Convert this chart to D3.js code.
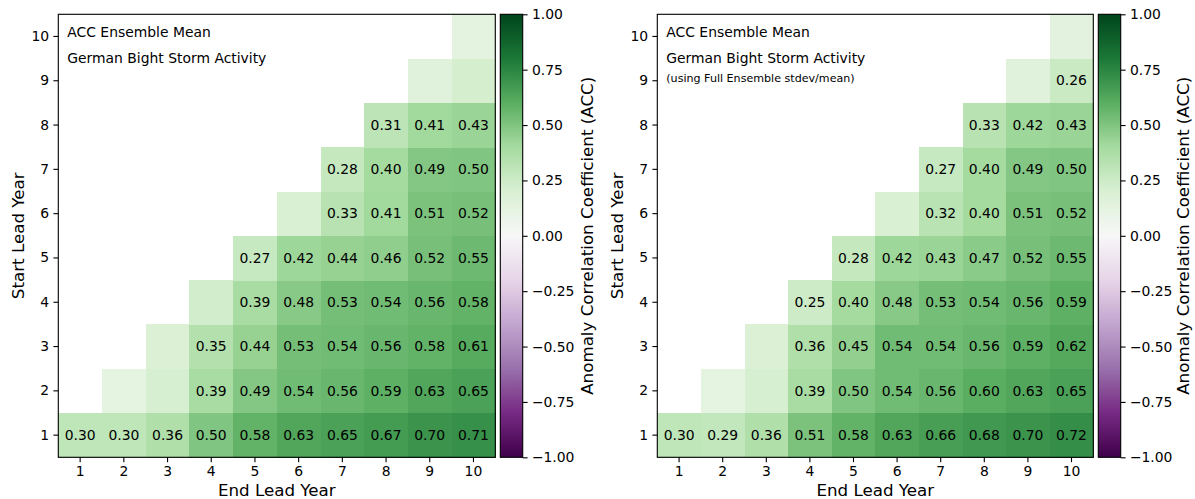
<!DOCTYPE html>
<html><head><meta charset="utf-8">
<script src="https://cdn.jsdelivr.net/npm/d3@7"></script>
<style>
body{margin:0;background:#fff}
svg{display:block}
text{font-family:"DejaVu Sans",sans-serif;fill:#000}
</style>
</head><body>
<svg id="chart" width="1195" height="499"></svg>
<script>
// ---------------- data ----------------
const endYears = [1, 2, 3, 4, 5, 6, 7, 8, 9, 10];
const startYears = [1, 2, 3, 4, 5, 6, 7, 8, 9, 10];
// rows = start lead year 1..10, columns = end lead year 1..10 (null = not defined)
const accLeft = [
  [0.30, 0.30, 0.36, 0.50, 0.58, 0.63, 0.65, 0.67, 0.70, 0.71],
  [null, 0.12, 0.21, 0.39, 0.49, 0.54, 0.56, 0.59, 0.63, 0.65],
  [null, null, 0.19, 0.35, 0.44, 0.53, 0.54, 0.56, 0.58, 0.61],
  [null, null, null, 0.23, 0.39, 0.48, 0.53, 0.54, 0.56, 0.58],
  [null, null, null, null, 0.27, 0.42, 0.44, 0.46, 0.52, 0.55],
  [null, null, null, null, null, 0.20, 0.33, 0.41, 0.51, 0.52],
  [null, null, null, null, null, null, 0.28, 0.40, 0.49, 0.50],
  [null, null, null, null, null, null, null, 0.31, 0.41, 0.43],
  [null, null, null, null, null, null, null, null, 0.15, 0.22],
  [null, null, null, null, null, null, null, null, null, 0.13]
];
const accRight = [
  [0.30, 0.29, 0.36, 0.51, 0.58, 0.63, 0.66, 0.68, 0.70, 0.72],
  [null, 0.12, 0.21, 0.39, 0.50, 0.54, 0.56, 0.60, 0.63, 0.65],
  [null, null, 0.19, 0.36, 0.45, 0.54, 0.54, 0.56, 0.59, 0.62],
  [null, null, null, 0.25, 0.40, 0.48, 0.53, 0.54, 0.56, 0.59],
  [null, null, null, null, 0.28, 0.42, 0.43, 0.47, 0.52, 0.55],
  [null, null, null, null, null, 0.20, 0.32, 0.40, 0.51, 0.52],
  [null, null, null, null, null, null, 0.27, 0.40, 0.49, 0.50],
  [null, null, null, null, null, null, null, 0.33, 0.42, 0.43],
  [null, null, null, null, null, null, null, null, 0.15, 0.26],
  [null, null, null, null, null, null, null, null, null, 0.14]
];
const leftTexts = ["ACC Ensemble Mean", "German Bight Storm Activity"];
const rightTexts = ["ACC Ensemble Mean", "German Bight Storm Activity", "(using Full Ensemble stdev/mean)"];
const cbTicks = [-1.00, -0.75, -0.50, -0.25, 0.00, 0.25, 0.50, 0.75, 1.00];
const labelThreshold = 0.25;
const xLabel = "End Lead Year";
const yLabel = "Start Lead Year";
const cbLabel = "Anomaly Correlation Coefficient (ACC)";
// matplotlib PRGn anchor colours
const prgnColors = ["#40004b","#762a83","#9970ab","#c2a5cf","#e7d4e8","#f7f7f7","#d9f0d3","#a6dba0","#5aae61","#1b7837","#00441b"];

// ---------------- drawing ----------------
const svg = d3.select("#chart");
const color = d3.scaleLinear()
  .domain(d3.range(prgnColors.length).map(i => -1 + 2 * i / (prgnColors.length - 1)))
  .range(prgnColors)
  .interpolate(d3.interpolateRgb)
  .clamp(true);

const defs = svg.append("defs");
const grad = defs.append("linearGradient").attr("id", "prgn")
  .attr("x1", 0).attr("y1", 1).attr("x2", 0).attr("y2", 0);
d3.range(0, 1.0001, 0.02).forEach(t => {
  grad.append("stop").attr("offset", t).attr("stop-color", color(-1 + 2 * t));
});

const FS = 13.9, FSL = 16.7, LW = 1.1, TICK = 4.9;

function panel(o) {
  const g = svg.append("g");
  const x = d3.scaleBand().domain(endYears).range([o.x0, o.x1]).padding(0);
  const y = d3.scaleBand().domain(startYears).range([o.y1, o.y0]).padding(0);

  const cells = [];
  o.values.forEach((row, i) => row.forEach((v, j) => {
    if (v !== null) cells.push({s: startYears[i], e: endYears[j], v});
  }));

  g.selectAll("rect.cell").data(cells).join("rect")
    .attr("x", d => x(d.e)).attr("y", d => y(d.s))
    .attr("width", x.bandwidth() + 0.4).attr("height", y.bandwidth() + 0.4)
    .attr("fill", d => color(d.v)).attr("shape-rendering", "crispEdges");

  g.selectAll("text.val").data(cells.filter(d => Math.abs(d.v) >= labelThreshold)).join("text")
    .attr("x", d => x(d.e) + x.bandwidth() / 2)
    .attr("y", d => y(d.s) + y.bandwidth() / 2)
    .attr("dy", "0.34em")
    .attr("text-anchor", "middle").attr("font-size", FS)
    .text(d => d3.format(".2f")(d.v));

  // annotation texts
  const tb = [o.y0 + 22.4, o.y0 + 48.4, o.y0 + 67.4];
  const ts = [FS, FS, 11.1];
  o.texts.forEach((t, i) => {
    g.append("text").attr("x", o.x0 + 9).attr("y", tb[i]).attr("font-size", ts[i]).text(t);
  });

  // axes
  const ax = g.append("g").attr("transform", `translate(0,${o.y1})`)
    .call(d3.axisBottom(x).tickSize(TICK).tickPadding(4.3));
  const ay = g.append("g").attr("transform", `translate(${o.x0},0)`)
    .call(d3.axisLeft(y).tickSize(TICK).tickPadding(4.3));
  [ax, ay].forEach(a => {
    a.select(".domain").remove();
    a.selectAll(".tick line").attr("stroke", "#000").attr("stroke-width", LW);
    a.selectAll(".tick text").attr("font-size", FS).attr("font-family", "DejaVu Sans").attr("fill", "#000");
  });

  g.append("rect").attr("x", o.x0).attr("y", o.y0)
    .attr("width", o.x1 - o.x0).attr("height", o.y1 - o.y0)
    .attr("fill", "none").attr("stroke", "#000").attr("stroke-width", LW);

  g.append("text").attr("x", (o.x0 + o.x1) / 2).attr("y", 495.5)
    .attr("text-anchor", "middle").attr("font-size", FSL).text(xLabel);
  g.append("text").attr("transform", `translate(${o.ylabX},${(o.y0 + o.y1) / 2}) rotate(-90)`)
    .attr("text-anchor", "middle").attr("font-size", FSL).text(yLabel);

  // colorbar
  const cy = d3.scaleLinear().domain([-1, 1]).range([o.y1, o.y0]);
  g.append("rect").attr("x", o.cb0).attr("y", o.y0)
    .attr("width", o.cb1 - o.cb0).attr("height", o.y1 - o.y0)
    .attr("fill", "url(#prgn)");
  const ac = g.append("g").attr("transform", `translate(${o.cb1},0)`)
    .call(d3.axisRight(cy).tickValues(cbTicks).tickFormat(d3.format(".2f")).tickSize(TICK).tickPadding(4.3));
  ac.select(".domain").remove();
  ac.selectAll(".tick line").attr("stroke", "#000").attr("stroke-width", LW);
  ac.selectAll(".tick text").attr("font-size", FS).attr("font-family", "DejaVu Sans").attr("fill", "#000");
  g.append("rect").attr("x", o.cb0).attr("y", o.y0)
    .attr("width", o.cb1 - o.cb0).attr("height", o.y1 - o.y0)
    .attr("fill", "none").attr("stroke", "#000").attr("stroke-width", LW);
  g.append("text").attr("transform", `translate(${o.cblabX},${(o.y0 + o.y1) / 2}) rotate(-90)`)
    .attr("text-anchor", "middle").attr("font-size", FSL).text(cbLabel);
}

panel({x0: 58.3, x1: 495.3, y0: 14.3, y1: 457.3, cb0: 500.3, cb1: 522.7,
       values: accLeft, texts: leftTexts, ylabX: 24.3, cblabX: 593.3});
panel({x0: 657.3, x1: 1093.3, y0: 14.3, y1: 457.3, cb0: 1098.3, cb1: 1120.7,
       values: accRight, texts: rightTexts, ylabX: 623.3, cblabX: 1189});
</script>
</body></html>
